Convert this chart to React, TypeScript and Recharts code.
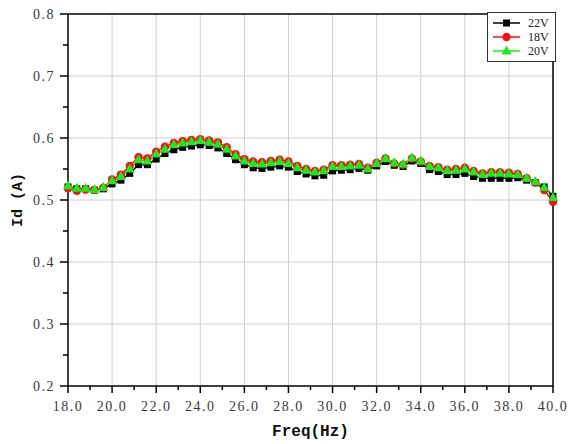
import React from 'react';
import {
  LineChart,
  Line,
  XAxis,
  YAxis,
  CartesianGrid,
  ReferenceLine,
  Legend,
} from 'recharts';

// frequency sweep, 0.4 Hz step
const freq = [
  18.0, 18.4, 18.8, 19.2, 19.6, 20.0, 20.4, 20.8, 21.2, 21.6,
  22.0, 22.4, 22.8, 23.2, 23.6, 24.0, 24.4, 24.8, 25.2, 25.6,
  26.0, 26.4, 26.8, 27.2, 27.6, 28.0, 28.4, 28.8, 29.2, 29.6,
  30.0, 30.4, 30.8, 31.2, 31.6, 32.0, 32.4, 32.8, 33.2, 33.6,
  34.0, 34.4, 34.8, 35.2, 35.6, 36.0, 36.4, 36.8, 37.2, 37.6,
  38.0, 38.4, 38.8, 39.2, 39.6, 40.0,
];

const id22V = [
  0.521, 0.518, 0.518, 0.516, 0.518, 0.526, 0.532, 0.543, 0.557, 0.557,
  0.566, 0.575, 0.581, 0.585, 0.587, 0.589, 0.588, 0.584, 0.575, 0.565,
  0.557, 0.552, 0.551, 0.553, 0.555, 0.553, 0.546, 0.542, 0.539, 0.540,
  0.547, 0.548, 0.549, 0.551, 0.548, 0.555, 0.562, 0.556, 0.554, 0.563,
  0.559, 0.549, 0.546, 0.541, 0.541, 0.543, 0.538, 0.535, 0.535, 0.535,
  0.535, 0.536, 0.532, 0.528, 0.521, 0.506,
];

const id18V = [
  0.519, 0.515, 0.517, 0.516, 0.520, 0.533, 0.541, 0.555, 0.569, 0.567,
  0.578, 0.586, 0.592, 0.595, 0.597, 0.598, 0.596, 0.593, 0.585, 0.574,
  0.566, 0.562, 0.561, 0.563, 0.565, 0.562, 0.555, 0.550, 0.547, 0.549,
  0.556, 0.556, 0.557, 0.558, 0.552, 0.560, 0.567, 0.559, 0.557, 0.567,
  0.562, 0.555, 0.553, 0.549, 0.550, 0.552, 0.547, 0.543, 0.545, 0.545,
  0.544, 0.542, 0.535, 0.528, 0.516, 0.497,
];

const id20V = [
  0.523, 0.519, 0.519, 0.517, 0.520, 0.531, 0.538, 0.550, 0.565, 0.563,
  0.574, 0.582, 0.589, 0.592, 0.594, 0.596, 0.593, 0.590, 0.582, 0.571,
  0.563, 0.559, 0.558, 0.560, 0.562, 0.559, 0.552, 0.548, 0.545, 0.547,
  0.554, 0.554, 0.555, 0.556, 0.550, 0.559, 0.567, 0.560, 0.558, 0.568,
  0.563, 0.554, 0.552, 0.547, 0.548, 0.550, 0.545, 0.541, 0.543, 0.543,
  0.542, 0.541, 0.535, 0.530, 0.520, 0.504,
];

const legendOrder = ['22V', '18V', '20V'];
const xTicks = [18, 19, 20, 21, 22, 23, 24, 25, 26, 27, 28, 29, 30, 31, 32, 33, 34, 35, 36, 37, 38, 39, 40];
const xGrid = [20, 22, 24, 26, 28, 30, 32, 34, 36, 38];
const yTicks = [0.2, 0.25, 0.3, 0.35, 0.4, 0.45, 0.5, 0.55, 0.6, 0.65, 0.7, 0.75, 0.8];
const yGrid = [0.3, 0.4, 0.5, 0.6, 0.7];

const data = freq.map((f, i) => ({ freq: f, v22: id22V[i], v18: id18V[i], v20: id20V[i] }));

const BLACK = '#000000';
const RED = '#ff1010';
const GREEN = '#1aeb1a';

const tickFont = '"Liberation Serif", "DejaVu Serif", serif';
const titleFont = '"Liberation Mono", "DejaVu Sans Mono", monospace';

const marker = (kind: string, cx: number, cy: number, color: string) => {
  if (kind === 'v22') return <rect x={cx - 3.5} y={cy - 3.5} width={7} height={7} fill={color} />;
  if (kind === 'v18') return <circle cx={cx} cy={cy} r={4.2} fill={color} />;
  return <polygon points={`${cx},${cy - 5.5} ${cx - 5},${cy + 3.5} ${cx + 5},${cy + 3.5}`} fill={color} />;
};

const makeDot = (kind: string, color: string) => (props: any) => {
  const { cx, cy, index } = props;
  if (cx == null || cy == null) return <g key={index} />;
  return <g key={index}>{marker(kind, cx, cy, color)}</g>;
};

const XTick = (props: any) => {
  const { x, y, payload } = props;
  const v = payload.value;
  const major = v % 2 === 0;
  return (
    <g>
      <line x1={x} y1={y} x2={x} y2={y + (major ? 7 : 4)} stroke="#000" strokeWidth={1.5} />
      {major && (
        <text x={x} y={y + 25} textAnchor="middle" fontFamily={tickFont} fontSize={14} letterSpacing={1.5} fill="#3a3a3a">
          {v.toFixed(1)}
        </text>
      )}
    </g>
  );
};

const YTick = (props: any) => {
  const { x, y, payload } = props;
  const v = payload.value;
  const major = Math.round(v * 100) % 10 === 0;
  return (
    <g>
      <line x1={x} y1={y} x2={x - (major ? 8 : 5)} y2={y} stroke="#000" strokeWidth={1.5} />
      {major && (
        <text x={x - 13} y={y + 5} textAnchor="end" fontFamily={tickFont} fontSize={14} letterSpacing={1.5} fill="#3a3a3a">
          {v.toFixed(1)}
        </text>
      )}
    </g>
  );
};

const YTitle = (props: any) => {
  const { viewBox } = props;
  const cy = viewBox.y + viewBox.height / 2;
  return (
    <text
      x={22}
      y={cy}
      transform={`rotate(-90 22 ${cy})`}
      textAnchor="middle"
      fontFamily={titleFont}
      fontWeight="bold"
      fontSize={15}
      fill="#111"
    >
      Id (A)
    </text>
  );
};

const renderLegend = (props: any) => {
  const items = [...(props.payload || [])].sort(
    (a: any, b: any) => legendOrder.indexOf(a.value) - legendOrder.indexOf(b.value)
  );
  return (
    <div
      style={{
        boxSizing: 'border-box',
        width: 69,
        height: 50,
        border: '1px solid #333',
        background: '#fff',
        padding: '3px 0 0 5px',
        fontFamily: tickFont,
        fontSize: 12,
        color: '#222',
      }}
    >
      {items.map((entry: any) => (
        <div key={entry.value} style={{ display: 'flex', alignItems: 'center', height: 14 }}>
          <svg width={28} height={12}>
            <line x1={0} y1={6} x2={27} y2={6} stroke={entry.color} strokeWidth={1.5} />
            {marker(entry.dataKey, 13.5, 6, entry.color)}
          </svg>
          <span style={{ marginLeft: 7, lineHeight: '14px' }}>{entry.value}</span>
        </div>
      ))}
    </div>
  );
};

export default function App() {
  return (
    <div style={{ position: 'absolute', left: 0, top: 0, background: '#fff' }}>
      <LineChart width={571} height={444} data={data} margin={{ top: 14, right: 18, bottom: 0, left: 0 }}>
        <CartesianGrid stroke="#cfcfcf" strokeWidth={1} verticalValues={xGrid} horizontalValues={yGrid} />
        <XAxis
          dataKey="freq"
          type="number"
          domain={[18, 40]}
          ticks={xTicks}
          interval={0}
          tick={<XTick />}
          tickLine={false}
          tickSize={0}
          tickMargin={0}
          height={58}
          axisLine={{ stroke: '#000', strokeWidth: 1.5 }}
          label={{
            value: 'Freq(Hz)',
            position: 'insideBottom',
            offset: 8,
            fontFamily: titleFont,
            fontWeight: 'bold',
            fontSize: 16,
            fill: '#111',
          }}
        />
        <YAxis
          type="number"
          domain={[0.2, 0.8]}
          ticks={yTicks}
          interval={0}
          tick={<YTick />}
          tickLine={false}
          tickSize={0}
          tickMargin={0}
          width={68}
          axisLine={{ stroke: '#000', strokeWidth: 1.5 }}
          label={YTitle}
        />
        <ReferenceLine x={40} stroke="#000" strokeWidth={1.5} />
        <ReferenceLine y={0.8} stroke="#000" strokeWidth={1.5} />
        <Line
          dataKey="v22"
          name="22V"
          stroke={BLACK}
          strokeWidth={1.5}
          dot={makeDot('v22', BLACK)}
          isAnimationActive={false}
        />
        <Line
          dataKey="v18"
          name="18V"
          stroke={RED}
          strokeWidth={1.5}
          dot={makeDot('v18', RED)}
          isAnimationActive={false}
        />
        <Line
          dataKey="v20"
          name="20V"
          stroke={GREEN}
          strokeWidth={1.5}
          dot={makeDot('v20', GREEN)}
          isAnimationActive={false}
        />
        <Legend
          layout="vertical"
          align="center"
          verticalAlign="middle"
          content={renderLegend}
          wrapperStyle={{ left: 487, top: 12, width: 69, height: 50 }}
        />
      </LineChart>
    </div>
  );
}
